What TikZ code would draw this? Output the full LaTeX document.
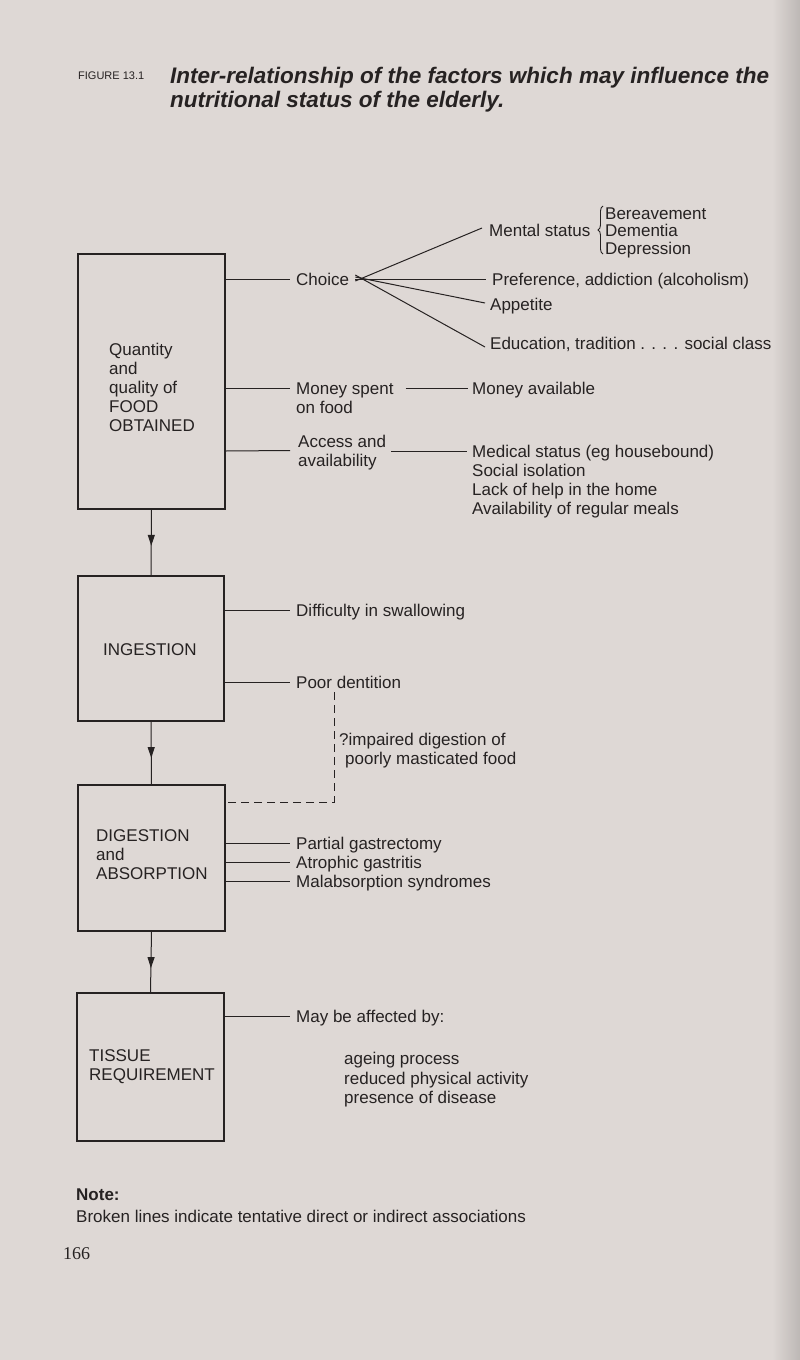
\documentclass[tikz,border=0pt]{standalone}
\usepackage{fontspec}
\setmainfont{Liberation Sans}
\newfontfamily\pagenumfont{Liberation Serif}
\usetikzlibrary{calc,decorations.markings,decorations.pathreplacing,arrows.meta}
\definecolor{paper}{RGB}{222,216,213}
\definecolor{ink}{RGB}{38,34,34}
\begin{document}
\begin{tikzpicture}[x=1pt,y=-1pt,
  txt/.style={anchor=west,inner sep=0pt,text height=12pt,text depth=0pt,text=ink,font=\fontsize{17}{19}\selectfont},
  titletxt/.style={anchor=west,inner sep=0pt,text height=16pt,text depth=0pt,text=ink,font=\fontsize{22.5}{25}\selectfont\bfseries\itshape},
  figtxt/.style={anchor=west,inner sep=0pt,text height=8pt,text depth=0pt,text=ink,font=\fontsize{11}{13}\selectfont},
  boxnode/.style={draw=ink,line width=1.1pt,inner sep=0pt},
  conn/.style={draw=ink,line width=1pt},
  dconn/.style={draw=ink,line width=1pt,dash pattern=on 8pt off 5pt},
  flowarrow/.style={draw=ink,line width=1pt,decoration={markings,mark=at position #1 with {\arrow{Triangle[length=11pt,width=7pt]}}},postaction=decorate},
]
\useasboundingbox (0,0) rectangle (800,1360);
\fill[paper] (0,0) rectangle (800,1360);
\shade[left color=paper,right color=paper!85!black] (772,0) rectangle (800,1360);

% title
\node[figtxt] (fig) at (78,75) {FIGURE 13.1};
\node[titletxt] (t1) at (170,75) {Inter-relationship of the factors which may influence the};
\node[titletxt] (t2) at (170,99) {nutritional status of the elderly.};

% boxes
\node[boxnode,minimum width=147pt,minimum height=255pt] (b1) at (151.5,381.5) {};
\node[boxnode,minimum width=146pt,minimum height=145pt] (b2) at (151,648.5) {};
\node[boxnode,minimum width=147pt,minimum height=146pt] (b3) at (151.5,858) {};
\node[boxnode,minimum width=147pt,minimum height=148pt] (b4) at (150.5,1067) {};

% box texts
\node[txt] (q1) at (109,349) {Quantity};
\node[txt] (q2) at (109,368) {and};
\node[txt] (q3) at (109,387) {quality of};
\node[txt] (q4) at (109,406) {FOOD};
\node[txt] (q5) at (109,425) {OBTAINED};
\node[txt] (ing) at (103,649) {INGESTION};
\node[txt] (dg1) at (96,835) {DIGESTION};
\node[txt] (dg2) at (96,854) {and};
\node[txt] (dg3) at (96,873) {ABSORPTION};
\node[txt] (ts1) at (89,1055) {TISSUE};
\node[txt] (ts2) at (89,1074) {REQUIREMENT};

% flow arrows
\draw[flowarrow=0.55] (b1.south) -- (b2.north);
\draw[flowarrow=0.58] (b2.south) -- (b3.north);
\draw[flowarrow=0.6] (b3.south) -- (b4.north);

% food obtained factors
\node[txt] (choice) at (296,279) {Choice};
\node[txt] (ms) at (489,230) {Mental status};
\node[txt] (bere) at (605,213) {Bereavement};
\node[txt] (dem) at (605,230) {Dementia};
\node[txt] (dep) at (605,248) {Depression};
\draw[ink,line width=0.9pt,decorate,decoration={brace,amplitude=5pt}] (603,254) -- (603,206);
\node[txt] (pref) at (492,279) {Preference, addiction (alcoholism)};
\node[txt] (app) at (490,304) {Appetite};
\node[txt] (edu) at (490,343) {Education, tradition . . . . social class};

\coordinate (fan) at ([xshift=6pt]choice.east);
\draw[conn] (b1.east |- choice.west) -- ([xshift=-6pt]choice.west);
\draw[conn] ([yshift=-2pt]fan) -- ([xshift=-7pt,yshift=2pt]ms.west);
\draw[conn] (fan) -- ([xshift=-6pt]pref.west);
\draw[conn] ([yshift=2pt]fan) -- ([xshift=-5pt,yshift=1pt]app.west);
\draw[conn] ([yshift=4pt]fan) -- ([xshift=-5pt,yshift=-4pt]edu.west);

\node[txt] (msp) at (296,388) {Money spent};
\node[txt] (onf) at (296,407) {on food};
\node[txt] (mav) at (472,388) {Money available};
\draw[conn] (b1.east |- msp.west) -- ([xshift=-6pt]msp.west);
\draw[conn] ([xshift=12pt]msp.east) -- ([xshift=-4pt]mav.west);

\node[txt] (acc) at (298,441) {Access and};
\node[txt] (avl) at (298,460) {availability};
\coordinate (accmid) at ($(acc.west)!0.5!(avl.west)$);
\node[txt] (med) at (472,451) {Medical status (eg housebound)};
\node[txt] (soc) at (472,470) {Social isolation};
\node[txt] (lack) at (472,489) {Lack of help in the home};
\node[txt] (arm) at (472,508) {Availability of regular meals};
\draw[conn] (b1.east |- med.west) -- ([xshift=-8pt]accmid);
\draw[conn] ([xshift=-81pt]med.west) -- ([xshift=-5pt]med.west);

% ingestion factors
\node[txt] (diff) at (296,610) {Difficulty in swallowing};
\node[txt] (poor) at (296,682) {Poor dentition};
\draw[conn] (b2.east |- diff.west) -- ([xshift=-6pt]diff.west);
\draw[conn] (b2.east |- poor.west) -- ([xshift=-6pt]poor.west);
\node[txt] (imp1) at (339,739) {?impaired digestion of};
\node[txt] (imp2) at (345,758) {poorly masticated food};
\coordinate (dtop) at (334,692);
\coordinate (dcorner) at (334,802);
\draw[dconn] (dtop) -- (dcorner) -- (b3.east |- dcorner);

% digestion factors
\node[txt] (pg) at (296,843) {Partial gastrectomy};
\node[txt] (ag) at (296,862) {Atrophic gastritis};
\node[txt] (mal) at (296,881) {Malabsorption syndromes};
\draw[conn] (b3.east |- pg.west) -- ([xshift=-6pt]pg.west);
\draw[conn] (b3.east |- ag.west) -- ([xshift=-6pt]ag.west);
\draw[conn] (b3.east |- mal.west) -- ([xshift=-6pt]mal.west);

% tissue factors
\node[txt] (may) at (296,1016) {May be affected by:};
\draw[conn] (b4.east |- may.west) -- ([xshift=-6pt]may.west);
\node[txt] (age) at (344,1058) {ageing process};
\node[txt] (red) at (344,1078) {reduced physical activity};
\node[txt] (pres) at (344,1097) {presence of disease};

% note
\node[txt,font=\fontsize{17}{19}\selectfont\bfseries] (note) at (76,1194) {Note:};
\node[txt] (brk) at (76,1216) {Broken lines indicate tentative direct or indirect associations};
\node[anchor=west,inner sep=0pt,text height=12pt,text depth=0pt,text=ink,font=\fontsize{18}{20}\pagenumfont] (pnum) at (63,1253) {166};
\end{tikzpicture}
\end{document}
